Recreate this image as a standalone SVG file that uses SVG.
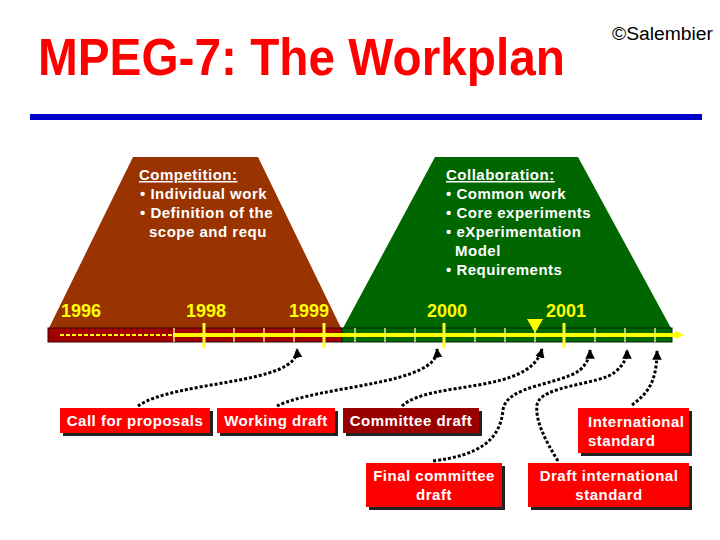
<svg xmlns="http://www.w3.org/2000/svg" width="720" height="540" viewBox="0 0 720 540">
<defs>
<style>
.t{font-family:"Liberation Sans",Arial,sans-serif;font-weight:bold;fill:#fff;font-size:15px;letter-spacing:0.5px}
.yr{font-family:"Liberation Sans",Arial,sans-serif;font-weight:bold;fill:#ffff00;font-size:18px;text-anchor:middle}
.mn{stroke:#ffff99;stroke-width:1.3}
.mj{stroke:#ffff33;stroke-width:3}
.con{fill:none;stroke:#000;stroke-width:3;stroke-dasharray:3 2}
.sh{fill:#222}
.bx{fill:#ff0000}
</style>
<marker id="ah" viewBox="0 0 10 10" refX="9" refY="5" markerWidth="3.2" markerHeight="3.2" orient="auto" markerUnits="strokeWidth">
<path d="M0,0 L10,5 L0,10 z" fill="#000"/>
</marker>
</defs>
<rect width="720" height="540" fill="#fff"/>
<g id="title">
<text x="38" y="75" font-family="'Liberation Sans',Arial,sans-serif" font-weight="bold" font-size="52" fill="#ff0000" textLength="527" lengthAdjust="spacingAndGlyphs">MPEG-7: The Workplan</text>
<text x="612" y="40" font-family="'Liberation Sans',Arial,sans-serif" font-size="18" fill="#000" textLength="101" lengthAdjust="spacingAndGlyphs">©Salembier</text>
<rect x="30" y="114" width="672" height="6" fill="#0000cc"/>
</g>
<g id="competition">
<polygon points="133,157 258,157 342,330 48,330" fill="#993300"/>
<text class="t" x="139" y="180" text-decoration="underline">Competition:</text>
<text class="t" x="140" y="199">• Individual work</text>
<text class="t" x="140" y="218">• Definition of the</text>
<text class="t" x="149" y="237">scope and requ</text>
</g>
<g id="collaboration">
<polygon points="435,157 578,157 672,330 342,330" fill="#006600"/>
<text class="t" x="446" y="180" text-decoration="underline">Collaboration:</text>
<text class="t" x="446" y="199">• Common work</text>
<text class="t" x="446" y="218">• Core experiments</text>
<text class="t" x="446" y="237">• eXperimentation</text>
<text class="t" x="455" y="256">Model</text>
<text class="t" x="446" y="275">• Requirements</text>
</g>
<g id="timeline">
<rect x="48" y="328" width="294" height="14" fill="#a00000" stroke="#3a0000" stroke-width="1"/>
<rect x="342" y="328" width="330" height="14" fill="#006600" stroke="#002a00" stroke-width="1"/>
<line x1="60" y1="335" x2="173" y2="335" stroke="#ffff00" stroke-width="2" stroke-dasharray="4 2"/>
<line x1="173" y1="335" x2="676" y2="335" stroke="#ffff00" stroke-width="4"/>
<polygon points="675,330.5 684,335 675,339.5" fill="#ffff00"/>
<g class="mn">
<line x1="174" y1="328" x2="174" y2="342"/>
<line x1="234" y1="328" x2="234" y2="342"/>
<line x1="264" y1="328" x2="264" y2="342"/>
<line x1="294" y1="328" x2="294" y2="342"/>
<line x1="355" y1="328" x2="355" y2="342"/>
<line x1="385" y1="328" x2="385" y2="342"/>
<line x1="415" y1="328" x2="415" y2="342"/>
<line x1="475" y1="328" x2="475" y2="342"/>
<line x1="505" y1="328" x2="505" y2="342"/>
<line x1="535" y1="328" x2="535" y2="342"/>
<line x1="595" y1="328" x2="595" y2="342"/>
<line x1="625" y1="328" x2="625" y2="342"/>
<line x1="655" y1="328" x2="655" y2="342"/>
</g>
<g class="mj">
<line x1="204" y1="323" x2="204" y2="348"/>
<line x1="324" y1="323" x2="324" y2="348"/>
<line x1="444" y1="323" x2="444" y2="348"/>
<line x1="564" y1="323" x2="564" y2="348"/>
</g>
<polygon points="527,319 543,319 535,333" fill="#ffff00"/>
<text class="yr" x="81" y="317">1996</text>
<text class="yr" x="206" y="317">1998</text>
<text class="yr" x="309" y="317">1999</text>
<text class="yr" x="447" y="317">2000</text>
<text class="yr" x="566" y="317">2001</text>
</g>
<g id="connectors">
<path class="con" d="M138,406 C175,380 300,385 297,349" marker-end="url(#ah)"/>
<path class="con" d="M277,406 C320,385 440,385 437,349" marker-end="url(#ah)"/>
<path class="con" d="M402,406 C430,380 530,395 542,349" marker-end="url(#ah)"/>
<path class="con" d="M433,461 C480,455 500,440 503,410 C506,385 560,385 580,370 C588,362 590,356 590,350" marker-end="url(#ah)"/>
<path class="con" d="M558,461 C545,440 535,420 537,405 C540,385 600,385 615,372 C625,364 627,356 627,350" marker-end="url(#ah)"/>
<path class="con" d="M632,405 C645,395 657,385 657,351" marker-end="url(#ah)"/>
</g>
<g id="call-for-proposals">
<rect class="sh" x="63" y="411" width="150" height="25"/>
<rect class="bx" x="60" y="408" width="150" height="25"/>
<text class="t" x="135" y="426" text-anchor="middle">Call for proposals</text>
</g>
<g id="working-draft">
<rect class="sh" x="220" y="411" width="118" height="25"/>
<rect class="bx" x="217" y="408" width="118" height="25"/>
<text class="t" x="276" y="426" text-anchor="middle">Working draft</text>
</g>
<g id="committee-draft">
<rect class="sh" x="346" y="411" width="136" height="25"/>
<rect x="343" y="408" width="136" height="25" fill="#990000"/>
<text class="t" x="411" y="426" text-anchor="middle">Committee draft</text>
</g>
<g id="international-standard">
<rect class="sh" x="581" y="411" width="111" height="45"/>
<rect class="bx" x="578" y="408" width="111" height="45"/>
<text class="t" x="588" y="427">International</text>
<text class="t" x="588" y="446">standard</text>
</g>
<g id="final-committee-draft">
<rect class="sh" x="369" y="466" width="136" height="44"/>
<rect class="bx" x="366" y="463" width="136" height="44"/>
<text class="t" x="434" y="481" text-anchor="middle">Final committee</text>
<text class="t" x="434" y="500" text-anchor="middle">draft</text>
</g>
<g id="draft-international-standard">
<rect class="sh" x="531" y="466" width="161" height="44"/>
<rect class="bx" x="528" y="463" width="161" height="44"/>
<text class="t" x="609" y="481" text-anchor="middle">Draft international</text>
<text class="t" x="609" y="500" text-anchor="middle">standard</text>
</g>
</svg>
